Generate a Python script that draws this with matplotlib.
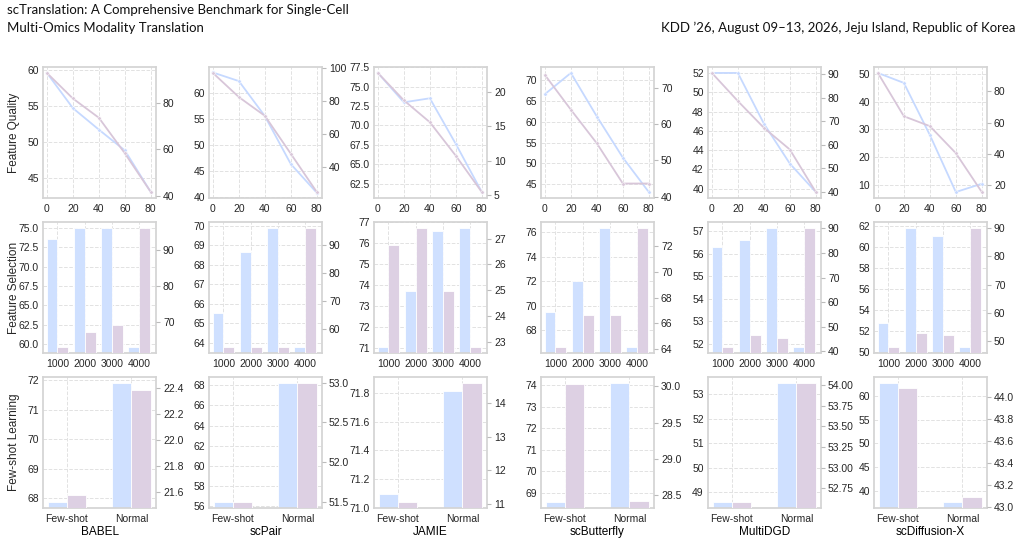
import matplotlib
matplotlib.use("Agg")
import matplotlib.pyplot as plt
from matplotlib.ticker import MultipleLocator
import numpy as np

methods = ["BABEL", "scPair", "JAMIE", "scButterfly", "MultiDGD", "scDiffusion-X"]
row_labels = ["Feature Quality", "Feature Selection", "Few-shot Learning"]

# row 1: feature quality, x = noise level
fq_x = [0, 20, 40, 60, 80]
fq_left = [
    [59.6, 54.7, 51.7, 48.8, 43.0],
    [63.85, 62.2, 55.5, 46.3, 40.8],
    [76.77, 72.98, 73.5, 67.6, 61.4],
    [66.7, 71.8, 61.3, 51.4, 43.1],
    [52.0, 52.0, 46.75, 42.6, 39.65],
    [50.4, 46.8, 28.0, 7.4, 10.4],
]
fq_right = [
    [92.9, 81.9, 73.6, 58.3, 41.6],
    [97.2, 82.5, 71.1, 48.0, 24.7],
    [22.8, 18.8, 15.6, 10.7, 5.4],
    [73.6, 64.0, 54.7, 43.6, 43.6],
    [90.4, 78.5, 67.2, 58.0, 40.0],
    [91.7, 64.1, 57.8, 40.6, 15.8],
]

# row 2: feature selection, number of genes
fs_cats = ["1000", "2000", "3000", "4000"]
fs_left = [
    [73.6, 75.0, 75.0, 59.6],
    [65.55, 68.69, 69.9, 63.78],
    [71.05, 73.73, 76.57, 76.73],
    [69.5, 72.0, 76.36, 66.6],
    [56.3, 56.6, 57.15, 51.85],
    [52.7, 61.8, 61.0, 50.45],
]
fs_right = [
    [62.96, 67.1, 69.1, 96.3],
    [53.4, 53.4, 53.4, 96.3],
    [26.77, 27.41, 24.99, 22.81],
    [64.13, 66.64, 66.62, 73.44],
    [41.8, 46.6, 45.5, 90.1],
    [47.9, 52.9, 52.1, 90.1],
]

# row 3: few-shot vs normal
fsl_cats = ["Few-shot", "Normal"]
fsl_left = [
    [67.86, 71.91],
    [56.4, 68.23],
    [71.098, 71.81],
    [68.57, 74.11],
    [48.59, 53.46],
    [62.8, 37.6],
]
fsl_right = [
    [21.574, 22.387],
    [51.5, 52.99],
    [11.06, 14.59],
    [30.03, 28.42],
    [52.58, 54.03],
    [44.08, 43.09],
]

# tick steps per panel (left / right axis)
fq_lstep = [5, 5, 2.5, 5, 2, 10]
fq_rstep = [20, 20, 5, 10, 10, 20]
fs_lstep = [2.5, 1, 1, 2, 1, 2]
fs_rstep = [10, 10, 1, 2, 10, 10]
fsl_lstep = [1, 2, 0.2, 1, 1, 5]
fsl_rstep = [0.2, 0.5, 1, 0.5, 0.25, 0.2]

# a few axes whose range is not the usual padding
ylim_override = {
    (0, 1, "l"): (39.8, 64.9),
    (0, 3, "r"): (39.6, 75.8),
    (2, 1, "r"): (51.42, 53.07),
    (2, 4, "r"): (52.51, 54.10),
}

BLUE = "#cfe0ff"
PURPLE = "#ddd0e3"
BLUE_LINE = "#c6d9ff"
PURPLE_LINE = "#d8c6d9"

plt.rcParams.update({
    "font.family": ["Liberation Sans", "DejaVu Sans"],
    "axes.edgecolor": "#d4d4d4",
    "axes.linewidth": 1.25,
    "axes.grid": True,
    "grid.color": "#e2e2e2",
    "grid.linestyle": "--",
    "grid.linewidth": 0.7,
    "xtick.color": "#262626",
    "ytick.color": "#262626",
    "xtick.major.size": 0,
    "ytick.major.size": 0,
    "xtick.labelsize": 7.5,
    "ytick.labelsize": 7.5,
    "xtick.major.pad": 4,
    "ytick.major.pad": 3,
})

W, H = 1022, 539
fig = plt.figure(figsize=(W / 100, H / 100), dpi=100)

col_left = [43, 209, 374, 541, 708, 874]
row_top = [67, 222, 377]
ax_w, ax_h = 113, 131


def pad_lim(vals):
    lo, hi = min(vals), max(vals)
    p = max(0.05 * (hi - lo), 0.1)
    return lo - p, hi + p


def make_axes(r, c):
    ax = fig.add_axes([col_left[c] / W, 1 - (row_top[r] + ax_h) / H, ax_w / W, ax_h / H])
    ax.set_axisbelow(True)
    ax2 = ax.twinx()
    ax2.grid(False)
    ax2.tick_params(axis="y", length=3, width=0.8, color="#bbbbbb", pad=2)
    for sp in ax2.spines.values():
        sp.set_visible(False)
    return ax, ax2


def finish(ax, ax2, r, c, lv, rv, lstep, rstep):
    ax.set_ylim(ylim_override.get((r, c, "l"), pad_lim(lv)))
    ax2.set_ylim(ylim_override.get((r, c, "r"), pad_lim(rv)))
    ax.yaxis.set_major_locator(MultipleLocator(lstep))
    ax2.yaxis.set_major_locator(MultipleLocator(rstep))


for c in range(6):
    # feature quality lines
    ax, ax2 = make_axes(0, c)
    ax.plot(fq_x, fq_left[c], color=BLUE_LINE, lw=1.3, marker="o", ms=2.5,
            mec="white", mew=0.4, zorder=3)
    ax2.plot(fq_x, fq_right[c], color=PURPLE_LINE, lw=1.3, marker="o", ms=2.5,
             mec="white", mew=0.4)
    finish(ax, ax2, 0, c, fq_left[c], fq_right[c], fq_lstep[c], fq_rstep[c])
    ax.set_xlim(-3, 84)
    ax.set_xticks(fq_x)

    # feature selection bars
    ax, ax2 = make_axes(1, c)
    xs = np.arange(len(fs_cats))
    ax.bar(xs - 0.2, fs_left[c], width=0.4, color=BLUE, edgecolor="white", lw=0.6)
    ax2.bar(xs + 0.2, fs_right[c], width=0.4, color=PURPLE, edgecolor="white", lw=0.6)
    finish(ax, ax2, 1, c, fs_left[c], fs_right[c], fs_lstep[c], fs_rstep[c])
    ax.set_xlim(-0.53, 3.62)
    ax.set_xticks(xs)
    ax.set_xticklabels(fs_cats)

    # few-shot bars
    ax, ax2 = make_axes(2, c)
    xs = np.arange(len(fsl_cats))
    ax.bar(xs - 0.15, fsl_left[c], width=0.3, color=BLUE, edgecolor="white", lw=0.6)
    ax2.bar(xs + 0.15, fsl_right[c], width=0.3, color=PURPLE, edgecolor="white", lw=0.6)
    finish(ax, ax2, 2, c, fsl_left[c], fsl_right[c], fsl_lstep[c], fsl_rstep[c])
    ax.set_xlim(-0.37, 1.38)
    ax.set_xticks(xs)
    ax.set_xticklabels(fsl_cats)
    ax.set_xlabel(methods[c], fontsize=8.5, labelpad=2)

# row labels at a fixed x so they line up (as in the paper figure)
for r in range(3):
    yc = 1 - (row_top[r] + ax_h / 2) / H
    fig.text(14 / W, yc, row_labels[r], rotation=90, fontsize=8.5, color="#262626",
             ha="center", va="center")

hdr = dict(fontsize=9.5, color="#111111", family=["Lato", "DejaVu Sans"])
fig.text(7 / W, 1 - 4 / H, "scTranslation: A Comprehensive Benchmark for Single-Cell",
         ha="left", va="top", **hdr)
fig.text(7 / W, 1 - 22 / H, "Multi-Omics Modality Translation", ha="left", va="top", **hdr)
fig.text(1015 / W, 1 - 22 / H, "KDD \u201926, August 09\u201313, 2026, Jeju Island, Republic of Korea",
         ha="right", va="top", **hdr)

fig.savefig("out.png", dpi=100)
